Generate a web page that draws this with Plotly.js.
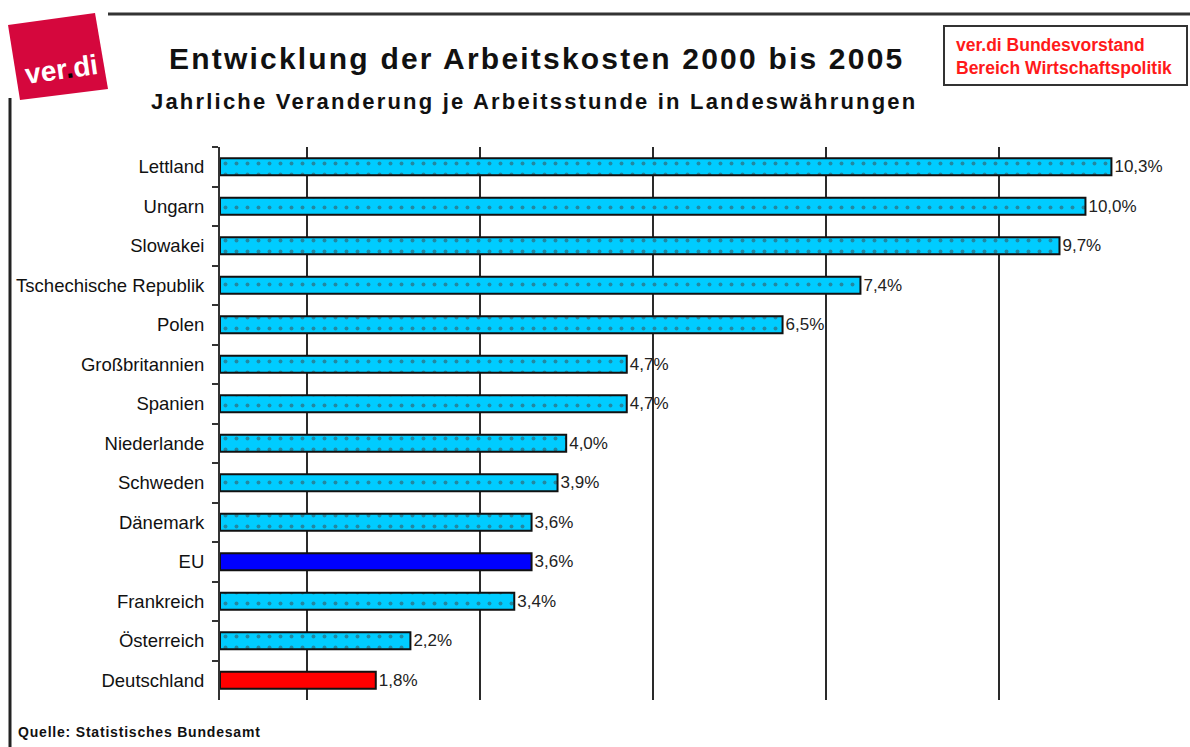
<!DOCTYPE html>
<html>
<head>
<meta charset="utf-8">
<script src="https://cdn.plot.ly/plotly-3.0.1.min.js"></script>
<style>html,body{margin:0;padding:0;background:#fff;}</style>
</head>
<body>
<div id="chart" style="width:1190px;height:747px;"></div>
<script>
const countries = ["Lettland","Ungarn","Slowakei","Tschechische Republik","Polen","Großbritannien","Spanien","Niederlande","Schweden","Dänemark","EU","Frankreich","Österreich","Deutschland"];
const changes = [10.3,10.0,9.7,7.4,6.5,4.7,4.7,4.0,3.9,3.6,3.6,3.4,2.2,1.8];
const gridValues = [1,3,5,7,9];
const titleText = "Entwicklung der Arbeitskosten 2000 bis 2005";
const subtitleText = "Jahrliche Veranderung je Arbeitsstunde in Landeswährungen";
const boxLines = ["ver.di Bundesvorstand","Bereich Wirtschaftspolitik"];
const sourceText = "Quelle: Statistisches Bundesamt";

const W = 1190, H = 747;
const M = {l:220, r:18, t:147, b:47};
const px = x => (x - M.l) / (W - M.l - M.r);
const py = y => (H - M.b - y) / (H - M.t - M.b);

const barColors = countries.map(c => c === "EU" ? "#0000ff" : (c === "Deutschland" ? "#ff0000" : "#00ccff"));
const patShapes = countries.map(c => (c === "EU" || c === "Deutschland") ? "" : ".");
const labels = changes.map(v => v.toFixed(1).replace(".", ",") + "%");

const trace = {
  type: "bar",
  orientation: "h",
  y: countries,
  x: changes,
  text: labels,
  textposition: "outside",
  constraintext: "none",
  cliponaxis: false,
  textfont: {family: "Liberation Sans, Arial, sans-serif", size: 17, color: "#222"},
  marker: {
    color: barColors,
    line: {color: "#111", width: 2},
    pattern: {shape: patShapes, fgcolor: "#2aa8f0", size: 11, solidity: 0.1, fillmode: "overlay"}
  },
  hoverinfo: "none"
};

const pathStr = (pts) => "M " + pts.map(p => px(p[0]) + "," + py(p[1])).join(" L ") + " Z";
const spaced = (t, ls) => "<span style='letter-spacing:" + ls + "px'>" + t + "</span>";

const layout = {
  width: W, height: H, autosize: false,
  margin: M,
  paper_bgcolor: "#fff", plot_bgcolor: "#fff",
  showlegend: false,
  bargap: 0.57,
  font: {family: "Liberation Sans, Arial, sans-serif", color: "#111"},
  xaxis: {
    range: [0, 11], tickvals: gridValues, showticklabels: false,
    showgrid: true, gridcolor: "#2a2a2a", gridwidth: 2,
    zeroline: false, showline: false, ticks: "", fixedrange: true
  },
  yaxis: {
    type: "category", categoryorder: "array", categoryarray: countries,
    autorange: "reversed",
    showline: true, linecolor: "#333", linewidth: 2,
    ticks: "outside", tickson: "boundaries", ticklen: 6, tickwidth: 2, tickcolor: "#333",
    ticklabelstandoff: 10,
    tickfont: {family: "Liberation Sans, Arial, sans-serif", size: 18.5, color: "#111"},
    showgrid: false, zeroline: false, fixedrange: true
  },
  shapes: [
    {type: "line", xref: "paper", yref: "paper", x0: px(108), x1: px(1190), y0: py(14), y1: py(14), line: {color: "#333", width: 3}},
    {type: "line", xref: "paper", yref: "paper", x0: px(10), x1: px(10), y0: py(98), y1: py(747), line: {color: "#222", width: 3}},
    {type: "rect", xref: "paper", yref: "paper", x0: px(944), x1: px(1187), y0: py(26), y1: py(85), line: {color: "#333", width: 2}, fillcolor: "#fff"},
    {type: "path", xref: "paper", yref: "paper", path: pathStr([[8,25],[95,13],[108,89],[20,100]]), fillcolor: "#d5073d", line: {width: 0}}
  ],
  annotations: [
    {xref: "paper", yref: "paper", x: px(536), y: py(58), text: "<b>" + spaced(titleText, 2.2) + "</b>", showarrow: false, xanchor: "center", yanchor: "middle", font: {size: 30, color: "#111"}},
    {xref: "paper", yref: "paper", x: px(534), y: py(101), text: "<b>" + spaced(subtitleText, 2.2) + "</b>", showarrow: false, xanchor: "center", yanchor: "middle", font: {size: 22, color: "#111"}},
    {xref: "paper", yref: "paper", x: px(954), y: py(45), text: "<b>" + boxLines[0] + "</b>", showarrow: false, xanchor: "left", yanchor: "middle", font: {size: 17.5, color: "#ff1a1a"}},
    {xref: "paper", yref: "paper", x: px(954), y: py(68), text: "<b>" + boxLines[1] + "</b>", showarrow: false, xanchor: "left", yanchor: "middle", font: {size: 17.5, color: "#ff1a1a"}},
    {xref: "paper", yref: "paper", x: px(16), y: py(732), text: "<b>" + spaced(sourceText, 0.8) + "</b>", showarrow: false, xanchor: "left", yanchor: "middle", font: {size: 14, color: "#111"}},
    {xref: "paper", yref: "paper", x: px(61), y: py(70), text: "<b>ver<span style='color:#000'>.</span>di</b>", showarrow: false, xanchor: "center", yanchor: "middle", textangle: -8, font: {size: 28, color: "#fff"}}
  ]
};

Plotly.newPlot("chart", [trace], layout, {displayModeBar: false, staticPlot: true});
</script>
</body>
</html>
